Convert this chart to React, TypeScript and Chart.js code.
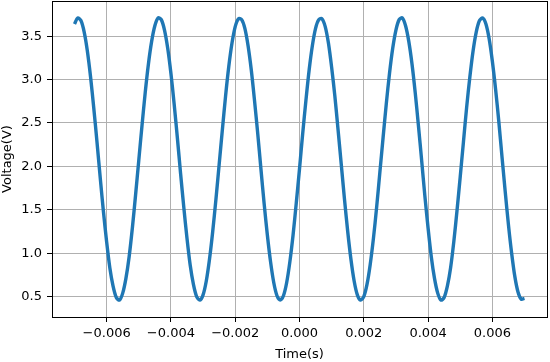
import React, { useEffect, useRef } from "react";
import { Chart, registerables } from "chart.js";

Chart.register(...registerables);

// Time in milliseconds (converted to seconds for the axis)
const timeMs = [
  -7.0, -6.9, -6.8, -6.7, -6.6, -6.5, -6.4, -6.3, -6.2, -6.1,
  -6.0, -5.9, -5.8, -5.7, -5.6, -5.5, -5.4, -5.3, -5.2, -5.1,
  -5.0, -4.9, -4.8, -4.7, -4.6, -4.5, -4.4, -4.3, -4.2, -4.1,
  -4.0, -3.9, -3.8, -3.7, -3.6, -3.5, -3.4, -3.3, -3.2, -3.1,
  -3.0, -2.9, -2.8, -2.7, -2.6, -2.5, -2.4, -2.3, -2.2, -2.1,
  -2.0, -1.9, -1.8, -1.7, -1.6, -1.5, -1.4, -1.3, -1.2, -1.1,
  -1.0, -0.9, -0.8, -0.7, -0.6, -0.5, -0.4, -0.3, -0.2, -0.1,
  0.0, 0.1, 0.2, 0.3, 0.4, 0.5, 0.6, 0.7, 0.8, 0.9,
  1.0, 1.1, 1.2, 1.3, 1.4, 1.5, 1.6, 1.7, 1.8, 1.9,
  2.0, 2.1, 2.2, 2.3, 2.4, 2.5, 2.6, 2.7, 2.8, 2.9,
  3.0, 3.1, 3.2, 3.3, 3.4, 3.5, 3.6, 3.7, 3.8, 3.9,
  4.0, 4.1, 4.2, 4.3, 4.4, 4.5, 4.6, 4.7, 4.8, 4.9,
  5.0, 5.1, 5.2, 5.3, 5.4, 5.5, 5.6, 5.7, 5.8, 5.9,
  6.0, 6.1, 6.2, 6.3, 6.4, 6.5, 6.6, 6.7, 6.8, 6.9,
  7.0,
];

const voltage = [
  3.64, 3.71, 3.68, 3.55, 3.33, 3.03, 2.67, 2.28, 1.87, 1.48,
  1.13, 0.83, 0.62, 0.49, 0.46, 0.54, 0.71, 0.96, 1.29, 1.67,
  2.07, 2.47, 2.85, 3.18, 3.44, 3.62, 3.71, 3.69, 3.57, 3.36,
  3.07, 2.72, 2.33, 1.92, 1.53, 1.17, 0.86, 0.64, 0.50, 0.46,
  0.52, 0.68, 0.93, 1.25, 1.62, 2.02, 2.42, 2.81, 3.15, 3.42,
  3.61, 3.70, 3.69, 3.59, 3.39, 3.11, 2.76, 2.38, 1.97, 1.57,
  1.21, 0.90, 0.66, 0.51, 0.46, 0.51, 0.66, 0.90, 1.21, 1.58,
  1.97, 2.38, 2.76, 3.11, 3.39, 3.59, 3.69, 3.70, 3.61, 3.42,
  3.14, 2.81, 2.42, 2.02, 1.62, 1.25, 0.93, 0.68, 0.52, 0.46,
  0.50, 0.64, 0.87, 1.17, 1.53, 1.93, 2.33, 2.72, 3.07, 3.36,
  3.57, 3.69, 3.71, 3.62, 3.44, 3.18, 2.85, 2.47, 2.07, 1.66,
  1.29, 0.96, 0.71, 0.54, 0.46, 0.49, 0.62, 0.83, 1.13, 1.49,
  1.88, 2.28, 2.68, 3.03, 3.33, 3.55, 3.68, 3.71, 3.64, 3.47,
  3.21, 2.89, 2.52, 2.11, 1.71, 1.33, 1.00, 0.73, 0.55, 0.47,
  0.48,
];

const xTicks = [-0.006, -0.004, -0.002, 0.0, 0.002, 0.004, 0.006];
const yTicks = [0.5, 1.0, 1.5, 2.0, 2.5, 3.0, 3.5];
const xTitle = "Time(s)";
const yTitle = "Voltage(V)";

const FONT = "'DejaVu Sans', sans-serif";

const framePlugin = {
  id: "frame",
  afterDatasetsDraw(chart: any) {
    const { ctx, chartArea } = chart;
    ctx.save();
    ctx.strokeStyle = "#000";
    ctx.lineWidth = 1;
    ctx.strokeRect(
      Math.round(chartArea.left) + 0.5,
      Math.round(chartArea.top) + 0.5,
      Math.round(chartArea.right - chartArea.left),
      Math.round(chartArea.bottom - chartArea.top)
    );
    ctx.restore();
  },
};

export default function App() {
  const canvasRef = useRef<HTMLCanvasElement | null>(null);

  useEffect(() => {
    document.body.style.margin = "0";
    const canvas = canvasRef.current;
    if (!canvas) return;
    const points = timeMs.map((t, i) => ({ x: t / 1000, y: voltage[i] }));
    const chart = new Chart(canvas, {
      type: "line",
      data: {
        datasets: [
          {
            data: points,
            borderColor: "#1f77b4",
            borderWidth: 3.4,
            pointRadius: 0,
            tension: 0.3,
            fill: false,
          },
        ],
      },
      options: {
        animation: false,
        responsive: false,
        maintainAspectRatio: false,
        layout: { padding: { top: 1, right: 3, left: 0, bottom: 0 } },
        plugins: { legend: { display: false }, tooltip: { enabled: false } },
        scales: {
          x: {
            type: "linear",
            min: -0.0077,
            max: 0.0077,
            afterBuildTicks: (scale: any) => {
              scale.ticks = xTicks.map((v) => ({ value: v }));
            },
            afterFit: (scale: any) => {
              scale.height = 45;
              scale.paddingLeft = 0;
              scale.paddingRight = 0;
              scale.paddingTop = 0;
              scale.paddingBottom = 0;
            },
            ticks: {
              color: "#000",
              font: { family: FONT, size: 13 },
              padding: 4,
              maxRotation: 0,
              autoSkip: false,
              callback: (v: any) => {
                const n = Number(v);
                const s = Math.abs(n).toFixed(3);
                return n < -1e-12 ? "\u2212" + s : s;
              },
            },
            grid: {
              color: "#b0b0b0",
              lineWidth: 1,
              tickColor: "#000",
              tickLength: 5,
              drawTicks: true,
            },
            border: { display: false },
            title: {
              display: true,
              text: xTitle,
              color: "#000",
              font: { family: FONT, size: 13 },
              padding: { top: 0, bottom: 0 },
            },
          },
          y: {
            type: "linear",
            min: 0.265,
            max: 3.905,
            afterBuildTicks: (scale: any) => {
              scale.ticks = yTicks.map((v) => ({ value: v }));
            },
            afterFit: (scale: any) => {
              scale.width = 52;
              scale.paddingLeft = 0;
              scale.paddingRight = 0;
              scale.paddingTop = 0;
              scale.paddingBottom = 0;
            },
            ticks: {
              color: "#000",
              font: { family: FONT, size: 13 },
              padding: 5,
              autoSkip: false,
              callback: (v: any) => Number(v).toFixed(1),
            },
            grid: {
              color: "#b0b0b0",
              lineWidth: 1,
              tickColor: "#000",
              tickLength: 5,
              drawTicks: true,
            },
            border: { display: false },
            title: {
              display: true,
              text: yTitle,
              color: "#000",
              font: { family: FONT, size: 13 },
              padding: { top: 0, bottom: 0 },
            },
          },
        },
      },
      plugins: [framePlugin],
    });
    return () => chart.destroy();
  }, []);

  return (
    <div style={{ position: "fixed", left: 0, top: 0, width: 550, height: 362, background: "#fff" }}>
      <canvas ref={canvasRef} width={550} height={362} style={{ display: "block", width: 550, height: 362 }} />
    </div>
  );
}
